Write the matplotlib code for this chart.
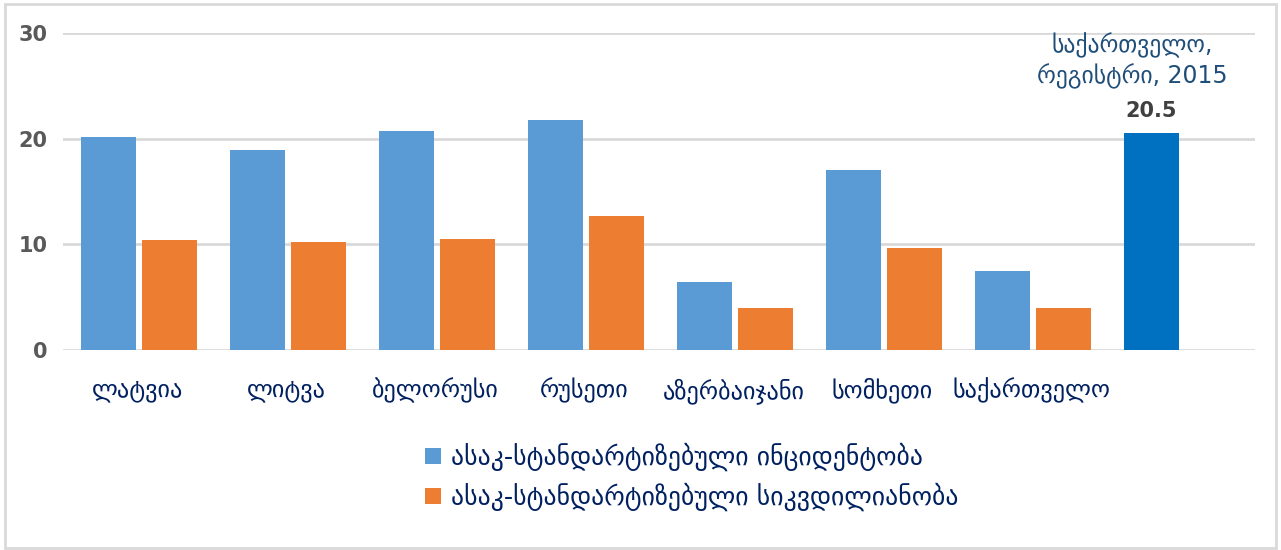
import matplotlib.pyplot as plt
from matplotlib.patches import Rectangle
import numpy as np

countries = ["ლატვია", "ლიტვა", "ბელორუსი", "რუსეთი", "აზერბაიჯანი", "სომხეთი", "საქართველო", ""]
incidence = [20.2, 18.9, 20.7, 21.8, 6.4, 17.0, 7.5]
mortality = [10.4, 10.2, 10.5, 12.7, 4.0, 9.7, 4.0]
registry_value = 20.5
registry_label = "საქართველო,\nრეგისტრი, 2015"
series_names = ["ასაკ-სტანდარტიზებული ინციდენტობა", "ასაკ-სტანდარტიზებული სიკვდილიანობა"]

BLUE = "#5B9BD5"
ORANGE = "#ED7D31"
DARK_BLUE = "#0070C0"
NAVY = "#002060"

plt.rcParams['font.family'] = ['DejaVu Sans']

fig = plt.figure(figsize=(12.81, 5.5), dpi=100)
ax = fig.add_axes([0.0492, 0.3636, 0.9305, 0.5764])

x = np.arange(len(incidence))
w = 0.37
b1 = ax.bar(x - 0.195, incidence, width=w, color=BLUE, label=series_names[0], zorder=3)
b2 = ax.bar(x + 0.215, mortality, width=w, color=ORANGE, label=series_names[1], zorder=3)
reg_x = len(incidence) - 0.195
ax.bar([reg_x], [registry_value], width=w, color=DARK_BLUE, zorder=3)

ax.text(reg_x, registry_value + 1.2, f"{registry_value}", ha='center', va='bottom',
        fontsize=15, fontweight='bold', color="#404040")
ax.text(reg_x - 0.13, registry_value + 4.2, registry_label, ha='center', va='bottom',
        fontsize=17, color="#1F4E79", linespacing=1.3)

ax.set_xlim(-0.5, len(countries) - 0.5)
ax.set_ylim(0, 30)
ax.set_yticks([0, 10, 20, 30])
ax.set_xticks(np.arange(len(countries)))
ax.set_xticklabels(countries, fontsize=17.5, color=NAVY)
ax.tick_params(axis='x', length=0, pad=20)
ax.tick_params(axis='y', length=0, pad=11, labelsize=15, labelcolor="#595959")
for lab in ax.get_yticklabels():
    lab.set_fontweight('bold')

ax.grid(axis='y', color="#D9D9D9", linewidth=2, zorder=0)
ax.set_axisbelow(True)
for s in ax.spines.values():
    s.set_visible(False)

leg = fig.legend(handles=[b1, b2], loc='center', bbox_to_anchor=(0.54, 0.133),
                 frameon=False, fontsize=18.5, handlelength=0.6, handleheight=0.6,
                 handletextpad=0.4, labelspacing=0.45)
for t in leg.get_texts():
    t.set_color(NAVY)

fig.patches.append(Rectangle((0.004, 0.004), 0.992, 0.988, transform=fig.transFigure,
                             fill=False, edgecolor="#D9D9D9", linewidth=2))

fig.savefig("out.png", dpi=100)
